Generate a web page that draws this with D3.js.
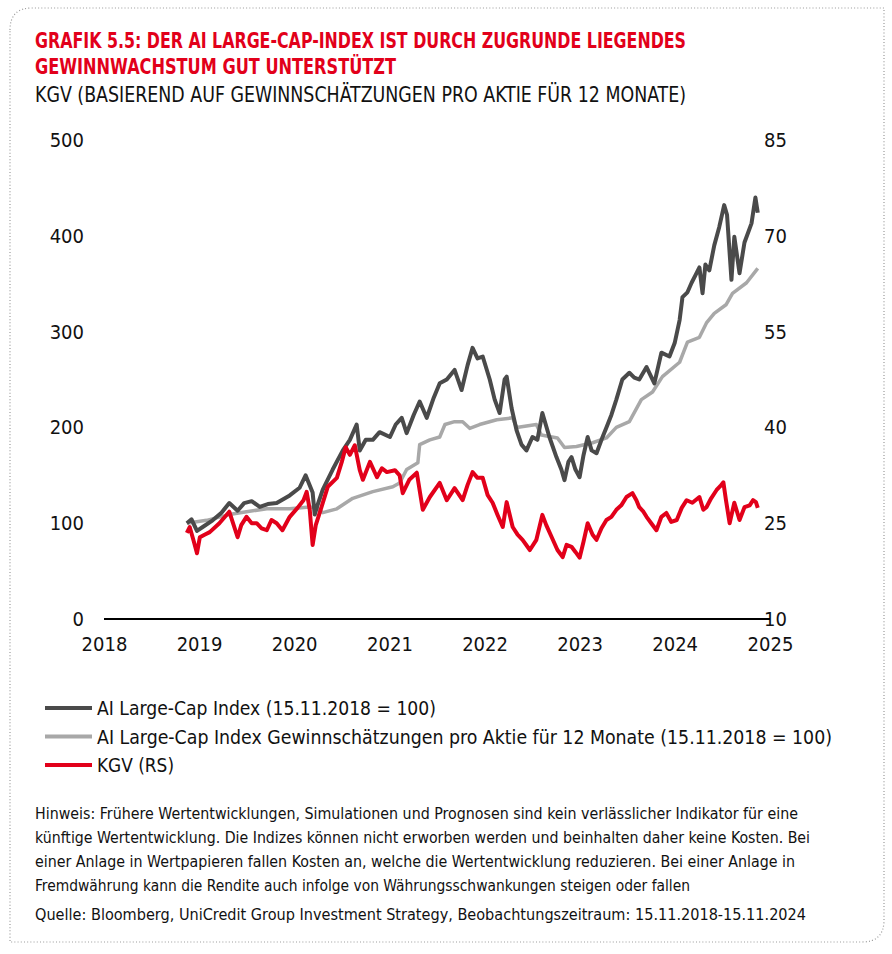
<!DOCTYPE html>
<html><head><meta charset="utf-8">
<script src="https://cdn.jsdelivr.net/npm/d3@7"></script>
<style>
html,body{margin:0;padding:0;background:#fff;}
text{font-family:"Liberation Sans Narrow","DejaVu Sans Condensed","Roboto",sans-serif;font-stretch:condensed;}
</style></head>
<body><svg id="c" width="892" height="954"></svg>
<script>
// ---------- data ----------
const yearTicks = [2018,2019,2020,2021,2022,2023,2024,2025];
const leftTicks = [0,100,200,300,400,500];
const rightTicks = [10,25,40,55,70,85];

const indexSeries = [
["2018-11-15",100],["2018-12-03",104],["2018-12-24",92],["2019-01-15",96],["2019-02-22",103],
["2019-03-28",111],["2019-04-27",121],["2019-05-29",113],["2019-06-23",121],["2019-07-22",123],
["2019-08-22",117],["2019-09-22",120],["2019-10-26",121],["2019-12-15",129],["2020-01-22",137],
["2020-02-14",150],["2020-03-12",132],["2020-03-20",109],["2020-03-31",119],["2020-04-20",135],
["2020-05-28",156],["2020-07-06",176],["2020-08-02",187],["2020-08-28",203],["2020-09-09",176],
["2020-10-02",187],["2020-10-29",187],["2020-11-24",195],["2021-01-03",190],["2021-01-25",203],
["2021-02-17",210],["2021-03-08",194],["2021-04-04",213],["2021-04-27",227],["2021-05-24",210],
["2021-06-20",231],["2021-07-13",246],["2021-08-09",250],["2021-09-08",260],["2021-10-05",239],
["2021-10-28",265],["2021-11-16",283],["2021-12-05",272],["2021-12-25",274],["2022-01-21",250],
["2022-02-09",229],["2022-02-28",215],["2022-03-19",250],["2022-03-27",253],["2022-04-15",220],
["2022-05-04",197],["2022-05-23",182],["2022-06-11",176],["2022-07-04",190],["2022-07-23",187],
["2022-08-11",215],["2022-09-07",190],["2022-10-04",169],["2022-10-23",156],["2022-11-04",145],
["2022-11-19",164],["2022-12-01",169],["2022-12-16",156],["2023-01-01",148],["2023-01-16",171],
["2023-02-01",190],["2023-02-16",176],["2023-03-07",173],["2023-03-26",187],["2023-04-14",200],
["2023-05-03",213],["2023-05-22",229],["2023-06-14",250],["2023-07-11",257],["2023-07-30",252],
["2023-08-18",250],["2023-09-15",263],["2023-10-15",246],["2023-11-11",278],["2023-12-12",274],
["2024-01-01",288],["2024-01-20",312],["2024-01-31",336],["2024-02-19",341],["2024-03-06",351],
["2024-03-21",359],["2024-04-05",367],["2024-04-17",340],["2024-04-28",370],["2024-05-13",364],
["2024-06-01",390],["2024-06-20",409],["2024-07-09",432],["2024-07-20",422],["2024-08-06",354],
["2024-08-17",399],["2024-09-06",361],["2024-09-25",393],["2024-10-22",413],["2024-11-06",440],
["2024-11-15",424]
];

const epsSeries = [
["2018-11-15",100],["2019-01-30",103],["2019-04-27",109],["2019-07-02",112],["2019-09-18",115],
["2019-12-15",115],["2020-03-01",117],["2020-03-28",116],["2020-04-20",111],["2020-06-13",115],
["2020-08-13",126],["2020-10-29",133],["2021-01-14",138],["2021-02-09",142],["2021-03-08",156],
["2021-04-20",163],["2021-04-27",182],["2021-06-05",187],["2021-07-13",190],["2021-08-02",203],
["2021-09-08",206],["2021-10-09",206],["2021-11-05",199],["2021-12-13",203],["2022-02-17",208],
["2022-04-19",210],["2022-05-04",200],["2022-07-19",203],["2022-08-07",192],["2022-10-08",189],
["2022-11-04",179],["2022-12-20",180],["2023-02-20",184],["2023-04-14",189],["2023-05-22",200],
["2023-07-11",206],["2023-08-26",229],["2023-10-08",237],["2023-11-15",253],["2024-01-20",268],
["2024-02-19",289],["2024-04-05",294],["2024-05-02",309],["2024-06-01",319],["2024-07-16",328],
["2024-08-10",340],["2024-10-03",351],["2024-11-15",366]
];

const peSeries = [
["2018-11-15",23.5],["2018-11-26",24.4],["2018-12-10",22.4],["2018-12-24",20.3],["2019-01-04",22.8],
["2019-01-22",23.2],["2019-02-11",23.6],["2019-03-20",25.0],["2019-04-27",26.8],["2019-05-29",22.8],
["2019-06-12",24.7],["2019-07-02",26.0],["2019-07-22",25.0],["2019-08-10",25.0],["2019-08-29",24.2],
["2019-09-18",23.9],["2019-10-06",25.5],["2019-10-26",25.0],["2019-11-17",23.9],["2019-12-15",26.0],
["2020-01-14",27.4],["2020-02-06",28.6],["2020-02-18",29.9],["2020-03-01",27.1],["2020-03-12",21.6],
["2020-03-24",24.7],["2020-04-08",26.6],["2020-05-09",30.7],["2020-06-13",32.1],["2020-07-02",34.6],
["2020-07-17",36.9],["2020-08-02",35.7],["2020-08-21",37.2],["2020-09-09",33.3],["2020-09-21",31.8],
["2020-10-18",34.6],["2020-11-14",32.2],["2020-12-03",33.6],["2020-12-22",33.0],["2021-01-22",33.3],
["2021-02-09",32.5],["2021-02-21",29.7],["2021-03-18",31.8],["2021-04-16",32.9],["2021-05-09",27.1],
["2021-06-05",29.1],["2021-07-13",31.3],["2021-08-09",28.6],["2021-09-08",30.5],["2021-10-09",28.6],
["2021-10-28",31.0],["2021-11-16",33.0],["2021-12-05",32.1],["2021-12-25",32.1],["2022-01-13",29.4],
["2022-02-01",28.2],["2022-02-20",26.3],["2022-03-12",24.4],["2022-03-27",28.3],["2022-04-19",24.4],
["2022-05-08",23.2],["2022-05-27",22.4],["2022-06-24",20.8],["2022-07-19",22.4],["2022-08-11",26.3],
["2022-08-26",24.7],["2022-09-16",22.8],["2022-10-08",20.8],["2022-10-28",19.7],["2022-11-12",21.6],
["2022-12-01",21.3],["2022-12-16",20.5],["2023-01-01",19.6],["2023-01-16",22.1],["2023-02-01",25.0],
["2023-02-20",23.2],["2023-03-07",22.4],["2023-03-26",24.2],["2023-04-14",25.5],["2023-05-03",26.0],
["2023-05-22",27.1],["2023-06-10",27.8],["2023-06-30",29.1],["2023-07-23",29.7],["2023-08-07",28.6],
["2023-08-18",27.5],["2023-09-03",26.8],["2023-09-15",26.0],["2023-10-03",25.0],["2023-10-23",23.9],
["2023-11-11",26.0],["2023-11-30",26.6],["2023-12-19",25.2],["2024-01-09",25.5],["2024-01-28",27.4],
["2024-02-16",28.6],["2024-03-09",28.2],["2024-04-05",29.1],["2024-04-20",27.1],["2024-05-02",27.5],
["2024-05-20",28.9],["2024-06-10",30.2],["2024-06-24",30.8],["2024-07-06",31.4],["2024-07-16",28.6],
["2024-07-30",25.0],["2024-08-17",28.2],["2024-09-06",25.5],["2024-09-25",27.5],["2024-10-15",27.8],
["2024-10-28",28.6],["2024-11-08",28.3],["2024-11-15",27.4]
];

const titleLines = ["GRAFIK 5.5: DER AI LARGE-CAP-INDEX IST DURCH ZUGRUNDE LIEGENDES","GEWINNWACHSTUM GUT UNTERSTÜTZT"];
const subtitle = "KGV (BASIEREND AUF GEWINNSCHÄTZUNGEN PRO AKTIE FÜR 12 MONATE)";
const legendLabels = ["AI Large-Cap Index (15.11.2018 = 100)","AI Large-Cap Index Gewinnschätzungen pro Aktie für 12 Monate (15.11.2018 = 100)","KGV (RS)"];
const noteLines = [
"Hinweis: Frühere Wertentwicklungen, Simulationen und Prognosen sind kein verlässlicher Indikator für eine",
"künftige Wertentwicklung. Die Indizes können nicht erworben werden und beinhalten daher keine Kosten. Bei",
"einer Anlage in Wertpapieren fallen Kosten an, welche die Wertentwicklung reduzieren. Bei einer Anlage in",
"Fremdwährung kann die Rendite auch infolge von Währungsschwankungen steigen oder fallen"];
const sourceLine = "Quelle: Bloomberg, UniCredit Group Investment Strategy, Beobachtungszeitraum: 15.11.2018-15.11.2024";

// ---------- drawing ----------
const colors = {index:"#4a4a4a", eps:"#a8a8a8", pe:"#e2001a"};
const svg = d3.select("#c");
const parse = d3.timeParse("%Y-%m-%d");

// border
svg.append("path")
  .attr("d","M10,30 Q10,8 32,8 L884,8 L884,920 Q884,942 862,942 L10,942 Z")
  .attr("fill","none").attr("stroke","#9a9a9a").attr("stroke-width",1.2)
  .attr("stroke-dasharray","1,2.2");

const fitText = (sel, w) => sel.attr("textLength", w).attr("lengthAdjust","spacingAndGlyphs");

// titles
const tW = [651, 361];
titleLines.forEach((t,i)=>{
  svg.append("text").attr("x",35).attr("y",48+i*26).attr("fill",colors.pe)
    .attr("font-size",21).attr("font-weight","bold").text(t).call(fitText, tW[i]);
});
svg.append("text").attr("x",35).attr("y",102).attr("fill","#111")
  .attr("font-size",21).text(subtitle).call(fitText, 651);

const x = d3.scaleTime().domain([new Date(2018,0,1), new Date(2025,0,1)]).range([104,770]);
const yL = d3.scaleLinear().domain([0,500]).range([619,140]);
const yR = d3.scaleLinear().domain([10,85]).range([619,140]);

// axes (labels only, no ticks)
const axL = svg.append("g").attr("transform","translate(84,0)")
  .call(d3.axisLeft(yL).tickValues(leftTicks).tickSize(0).tickPadding(0));
const axR = svg.append("g").attr("transform","translate(764,0)")
  .call(d3.axisRight(yR).tickValues(rightTicks).tickSize(0).tickPadding(0));
const axB = svg.append("g").attr("transform","translate(0,637)")
  .call(d3.axisBottom(x).tickValues(yearTicks.map(y=>new Date(y,0,1))).tickFormat(d3.timeFormat("%Y")).tickSize(0).tickPadding(0));
[axL,axR,axB].forEach(a=>{
  a.select(".domain").remove();
  a.selectAll("text").attr("font-size",20).attr("fill","#111")
   .style("font-family",'"Liberation Sans Narrow","DejaVu Sans Condensed","Roboto",sans-serif');
});
axB.selectAll("text").attr("dy","0.71em");

// zero line
svg.append("line").attr("x1",x(new Date(2018,0,1))).attr("x2",x(new Date(2025,0,1)))
  .attr("y1",yL(0)).attr("y2",yL(0)).attr("stroke","#000").attr("stroke-width",2);

const lineL = d3.line().x(d=>x(parse(d[0]))).y(d=>yL(d[1])).curve(d3.curveLinear);
const lineR = d3.line().x(d=>x(parse(d[0]))).y(d=>yR(d[1])).curve(d3.curveLinear);

svg.append("path").datum(epsSeries).attr("d",lineL).attr("fill","none")
  .attr("stroke",colors.eps).attr("stroke-width",3.5).attr("stroke-linejoin","round");
svg.append("path").datum(indexSeries).attr("d",lineL).attr("fill","none")
  .attr("stroke",colors.index).attr("stroke-width",4).attr("stroke-linejoin","round");
svg.append("path").datum(peSeries).attr("d",lineR).attr("fill","none")
  .attr("stroke",colors.pe).attr("stroke-width",4).attr("stroke-linejoin","round");

// legend
const legColors = [colors.index, colors.eps, colors.pe];
const legW = [339, 735, 77];
legendLabels.forEach((t,i)=>{
  const yy = 708 + i*28.5;
  svg.append("line").attr("x1",45).attr("x2",92).attr("y1",yy).attr("y2",yy)
    .attr("stroke",legColors[i]).attr("stroke-width",4);
  svg.append("text").attr("x",97).attr("y",yy+7).attr("font-size",20).attr("fill","#111")
    .text(t).call(fitText, legW[i]);
});

// notes
const noteW = [763, 775, 760, 655];
noteLines.forEach((t,i)=>{
  svg.append("text").attr("x",35).attr("y",819+i*24).attr("font-size",16.5).attr("fill","#111")
    .text(t).call(fitText, noteW[i]);
});
svg.append("text").attr("x",35).attr("y",920).attr("font-size",16.5).attr("fill","#111")
  .text(sourceLine).call(fitText, 771);
</script></body></html>
